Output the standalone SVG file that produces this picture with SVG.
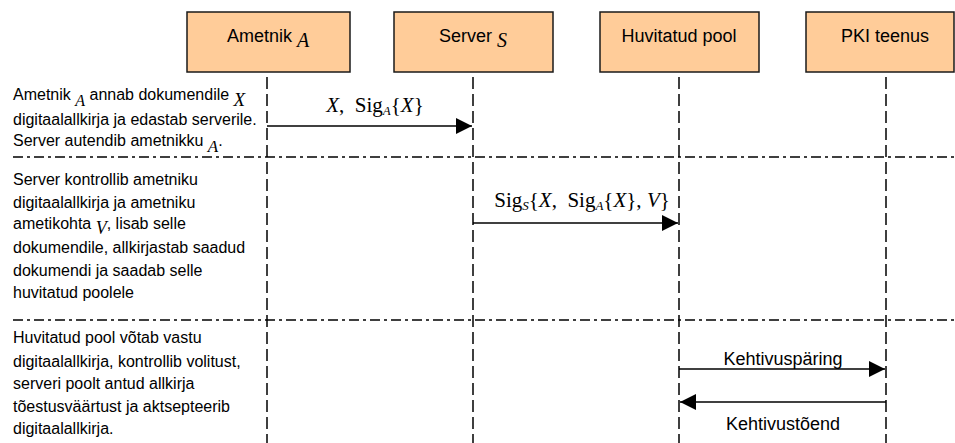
<svg xmlns="http://www.w3.org/2000/svg" width="955" height="443" viewBox="0 0 955 443">
<defs>
<style>
.box{fill:#FFCC99;stroke:#1a1a1a;stroke-width:1.5}
.lbl{font-family:"Liberation Sans",Arial,sans-serif;font-size:18px;fill:#000}
.txt{font-family:"Liberation Sans",Arial,sans-serif;font-size:16px;fill:#000}
.m{font-family:"Liberation Serif","Times New Roman",serif;font-size:21px;fill:#000}
.i{font-family:"Liberation Serif","Times New Roman",serif;font-style:italic}
.life{stroke:#000;stroke-width:1.5;stroke-dasharray:12 5;fill:none}
.sep{stroke:#000;stroke-width:1.5;stroke-dasharray:10 4 3 4;fill:none}
.arr{stroke:#000;stroke-width:1.6;fill:none;marker-end:url(#ah)}
</style>
<marker id="ah" markerUnits="userSpaceOnUse" markerWidth="16" markerHeight="16" refX="16" refY="8" orient="auto">
<path d="M0,0 L16,8 L0,16 Z" fill="#000"/>
</marker>
</defs>
<rect width="955" height="443" fill="#fff"/>

<g id="separators">
<line class="sep" x1="13" y1="157" x2="955" y2="157"/>
<line class="sep" x1="13" y1="320" x2="955" y2="320"/>
</g>

<g id="node-ametnik">
<rect class="box" x="187" y="12" width="163" height="60"/>
<text class="lbl" x="268" y="42" text-anchor="middle">Ametnik <tspan class="i" font-size="20" dy="5">A</tspan></text>
</g>
<g id="node-server">
<rect class="box" x="394" y="12" width="159" height="60"/>
<text class="lbl" x="473" y="42" text-anchor="middle">Server <tspan class="i" font-size="20" dy="5">S</tspan></text>
</g>
<g id="node-huvitatud">
<rect class="box" x="600" y="12" width="159" height="60"/>
<text class="lbl" x="679" y="42" text-anchor="middle">Huvitatud pool</text>
</g>
<g id="node-pki">
<rect class="box" x="806" y="12" width="148" height="60"/>
<text class="lbl" x="885" y="42" text-anchor="middle">PKI teenus</text>
</g>

<g id="lifelines">
<line class="life" x1="267" y1="77" x2="267" y2="443"/>
<line class="life" x1="473" y1="77" x2="473" y2="443"/>
<line class="life" x1="679" y1="77" x2="679" y2="443"/>
<line class="life" x1="886" y1="77" x2="886" y2="443"/>
</g>

<g id="connectors">
<line class="arr" x1="267" y1="126" x2="472" y2="126"/>
<text class="m" x="375" y="112" text-anchor="middle"><tspan class="i">X</tspan>,&#160; Sig<tspan class="i" font-size="13" dy="3">A</tspan><tspan dy="-3">{</tspan><tspan class="i">X</tspan>}</text>

<line class="arr" x1="473" y1="223" x2="678" y2="223"/>
<text class="m" x="582" y="207" text-anchor="middle">Sig<tspan class="i" font-size="13" dy="3">S</tspan><tspan dy="-3">{</tspan><tspan class="i">X</tspan>,&#160; Sig<tspan class="i" font-size="13" dy="3">A</tspan><tspan dy="-3">{</tspan><tspan class="i">X</tspan>}, <tspan class="i">V</tspan>}</text>

<line class="arr" x1="679" y1="369" x2="885" y2="369"/>
<text class="lbl" x="783" y="365" text-anchor="middle">Kehtivuspäring</text>

<line class="arr" x1="886" y1="402" x2="680" y2="402"/>
<text class="lbl" x="783" y="430" text-anchor="middle">Kehtivustõend</text>
</g>

<g id="notes">
<text class="txt" x="13" y="100">Ametnik <tspan class="i" font-size="16" dy="6">A</tspan><tspan dy="-6"> annab dokumendile </tspan><tspan class="i" font-size="19" dy="6">X</tspan></text>
<text class="txt" x="13" y="125">digitaalallkirja ja edastab serverile.</text>
<text class="txt" x="13" y="146">Server autendib ametnikku <tspan class="i" font-size="17" dy="6">A</tspan><tspan dy="-6">.</tspan></text>

<text class="txt" x="13" y="185">Server kontrollib ametniku</text>
<text class="txt" x="13" y="208">digitaalallkirja ja ametniku</text>
<text class="txt" x="13" y="229">ametikohta <tspan class="i" font-size="18" dy="5">V</tspan><tspan dy="-5">, lisab selle</tspan></text>
<text class="txt" x="13" y="253">dokumendile, allkirjastab saadud</text>
<text class="txt" x="13" y="276">dokumendi ja saadab selle</text>
<text class="txt" x="13" y="298">huvitatud poolele</text>

<text class="txt" x="13" y="343">Huvitatud pool võtab vastu</text>
<text class="txt" x="13" y="367">digitaalallkirja, kontrollib volitust,</text>
<text class="txt" x="13" y="389">serveri poolt antud allkirja</text>
<text class="txt" x="13" y="412">tõestusväärtust ja aktsepteerib</text>
<text class="txt" x="13" y="434">digitaalallkirja.</text>
</g>
</svg>
